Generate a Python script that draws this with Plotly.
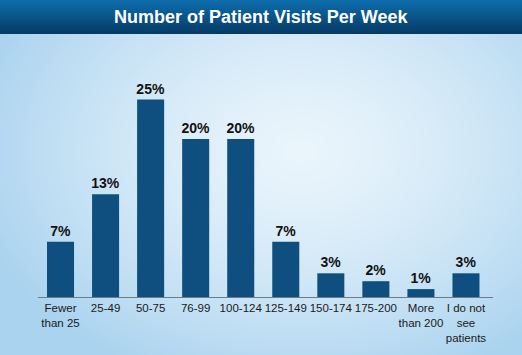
import numpy as np, zlib, struct, base64
import plotly.graph_objects as go

categories = ["Fewer<br>than 25", "25-49", "50-75", "76-99", "100-124", "125-149",
              "150-174", "175-200", "More<br>than 200", "I do not<br>see<br>patients"]
percent = [7, 13, 25, 20, 20, 7, 3, 2, 1, 3]
labels = [f"{v}%" for v in percent]
title_text = "Number of Patient Visits Per Week"

# ---- background image (gradient + title band) ----
W, H = 522, 355
yy, xx = np.mgrid[0:H, 0:W].astype(float)
d = np.sqrt(((xx - 300) / 340) ** 2 + ((yy - 150) / 250) ** 2)
d = np.clip(d, 0, 1)
c_in = np.array([234, 245, 252.]); c_out = np.array([170, 211, 239.])
img = c_in + (c_out - c_in) * (d[..., None] ** 1.4)
band = yy < 34
t = (yy / 34)[..., None]
top = np.array([14, 110, 172.]); bot = np.array([6, 58, 100.])
img = np.where(band[..., None], top + (bot - top) * t, img)
img = np.clip(img, 0, 255).astype(np.uint8)

def png_uri(a):
    h, w, _ = a.shape
    raw = b"".join(b"\x00" + a[r].tobytes() for r in range(h))
    def chunk(tag, data):
        return struct.pack(">I", len(data)) + tag + data + struct.pack(">I", zlib.crc32(tag + data) & 0xffffffff)
    png = b"\x89PNG\r\n\x1a\n" + chunk(b"IHDR", struct.pack(">IIBBBBB", w, h, 8, 2, 0, 0, 0)) \
        + chunk(b"IDAT", zlib.compress(raw, 9)) + chunk(b"IEND", b"")
    return "data:image/png;base64," + base64.b64encode(png).decode()

# plot area in pixels
L, R, T, B = 38, 493, 60, 297
pw, ph = R - L, B - T

FONT = "Liberation Sans Narrow, Liberation Sans, Arial, sans-serif"

fig = go.Figure(go.Bar(
    x=categories, y=percent, text=labels, textposition="outside",
    marker=dict(color="#0e4f80", line=dict(width=0)),
    width=0.6, cliponaxis=False, constraintext="none",
    textfont=dict(family=FONT, size=14, color="#111111", weight="bold"),
))

fig.update_layout(
    width=522, height=355,
    margin=dict(l=L, r=522 - R, t=T, b=355 - B, pad=0, autoexpand=False),
    paper_bgcolor="#d6ebf8", plot_bgcolor="rgba(0,0,0,0)",
    showlegend=False, bargap=0.4,
    xaxis=dict(range=[-0.5, 9.6], showline=True, linecolor="#6b7b88", linewidth=1,
               showgrid=False, zeroline=False, ticks="", fixedrange=True,
               tickangle=0, automargin=False,
               tickfont=dict(family=FONT, size=11.5, color="#1a1a1a")),
    yaxis=dict(range=[0, ph / 7.9], visible=False, showgrid=False, zeroline=False,
               automargin=False),
    images=[dict(source=png_uri(img), xref="paper", yref="paper",
                 x=-L / pw, y=B / ph, sizex=W / pw, sizey=H / ph,
                 sizing="stretch", xanchor="left", yanchor="top", layer="below")],
    annotations=[dict(text=title_text, xref="paper", yref="paper",
                      x=(261 - L) / pw, y=(B - 17) / ph, xanchor="center", yanchor="middle",
                      showarrow=False,
                      font=dict(family=FONT, size=18, color="white", weight="bold"))],
)

fig.write_html("out.html", config={"displayModeBar": False},
               post_script="document.body.style.margin='0';")
